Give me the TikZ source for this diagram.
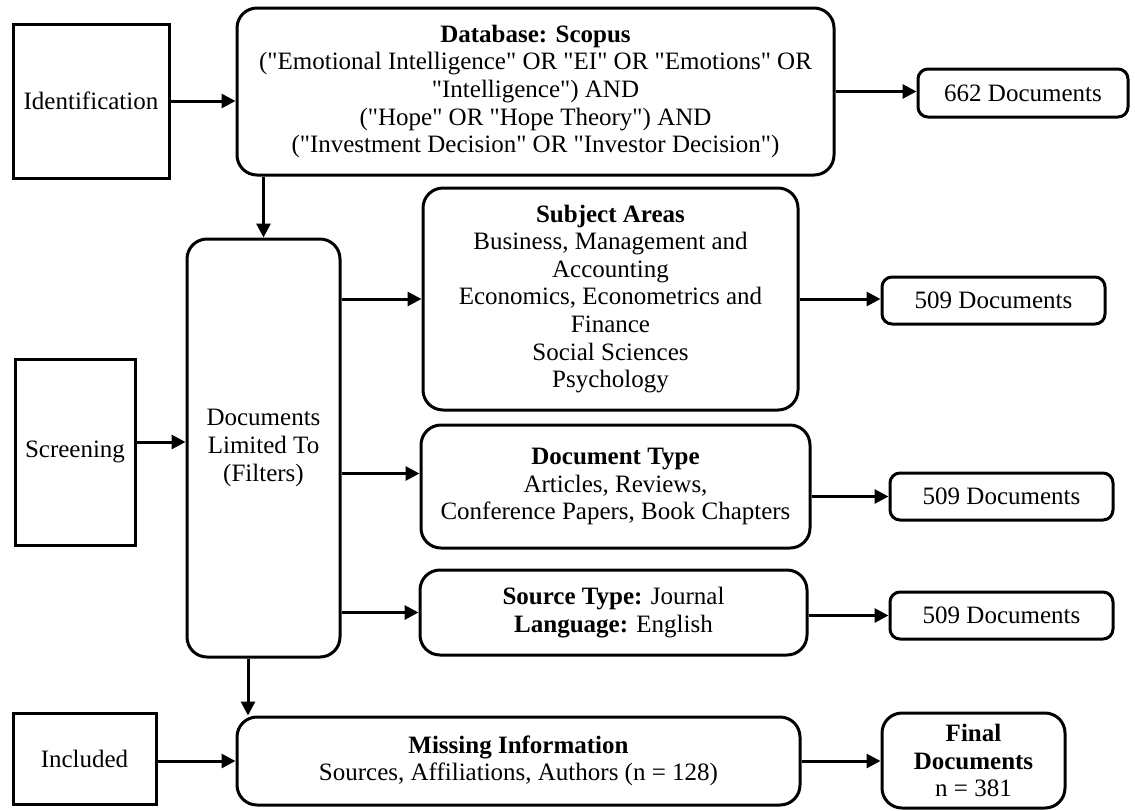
\documentclass[tikz,border=0pt]{standalone}
\usepackage{fontspec}
\setmainfont{Liberation Serif}
\usetikzlibrary{arrows.meta}
\newcommand{\qt}[1]{\textquotedbl#1\textquotedbl}
\begin{document}
\begin{tikzpicture}[>={Triangle[length=7pt,width=7pt]}, x=0.5pt, y=-0.5pt, line width=1.5pt,
    every node/.style={font=\fontsize{12.5}{13.8}\selectfont},
    stage/.style={draw, align=center, inner sep=2pt},
    rbox/.style={draw, rounded corners=10pt, align=center, inner sep=2pt},
    cbox/.style={draw, rounded corners=5pt, align=center, inner sep=2pt}]
\useasboundingbox (0,0) rectangle (1135,810);
% left column
\node[stage, minimum width=78pt, minimum height=77pt] (ident) at (91,101) {Identification};
\node[stage, minimum width=60pt, minimum height=93pt] (screen) at (75,452) {Screening};
\node[stage, minimum width=71.5pt, minimum height=45.5pt] (incl) at (84.5,758.5) {Included};
% search and filters
\node[rbox, minimum width=298.5pt, minimum height=83.5pt] (db) at (535.5,91.5)
  {\textbf{Database: Scopus}\\(\qt{Emotional Intelligence} OR \qt{EI} OR \qt{Emotions} OR\\\qt{Intelligence}) AND\\(\qt{Hope} OR \qt{Hope Theory}) AND\\(\qt{Investment Decision} OR \qt{Investor Decision})};
\node[rbox, minimum width=76.5pt, minimum height=209pt] (filt) at (263.5,448) {Documents\\Limited To\\(Filters)};
\node[rbox, minimum width=187.5pt, minimum height=111pt] (subj) at (610.5,299)
  {\textbf{Subject Areas}\\Business, Management and\\Accounting\\Economics, Econometrics and\\Finance\\Social Sciences\\Psychology};
\node[rbox, minimum width=194.5pt, minimum height=61.5pt] (dtype) at (615.5,486.5)
  {\textbf{Document Type}\\Articles, Reviews,\\Conference Papers, Book Chapters};
\node[rbox, minimum width=193.5pt, minimum height=42.5pt] (stype) at (613.5,612.5)
  {\textbf{Source Type:} Journal\\\textbf{Language:} English};
\node[rbox, minimum width=281.5pt, minimum height=44pt] (miss) at (518.5,761)
  {\textbf{Missing Information}\\Sources, Affiliations, Authors (n = 128)};
% counts
\node[cbox, minimum width=105pt, minimum height=24pt] (n662) at (1023,93) {662 Documents};
\node[cbox, minimum width=111.5pt, minimum height=23.5pt] (n509a) at (993.5,300.5) {509 Documents};
\node[cbox, minimum width=111.5pt, minimum height=23.5pt] (n509b) at (1001.5,496.5) {509 Documents};
\node[cbox, minimum width=111.5pt, minimum height=23.5pt] (n509c) at (1001.5,615.5) {509 Documents};
\node[rbox, minimum width=91.5pt, minimum height=47.5pt] (final) at (973.5,760.5) {\textbf{Final}\\\textbf{Documents}\\n = 381};
% arrows
\draw[->] (ident.east) -- (ident.east -| db.west);
\draw[->] (db.east) -- (db.east -| n662.west);
\draw[->] (filt.north |- db.south) -- (filt.north);
\draw[->] ([yshift=5pt]screen.east) -- ([yshift=5pt]screen.east -| filt.west);
\draw[->] (filt.east |- subj.west) -- (subj.west);
\draw[->] (subj.east) -- (subj.east -| n509a.west);
\draw[->] ([yshift=6.5pt]dtype.west -| filt.east) -- ([yshift=6.5pt]dtype.west);
\draw[->] (dtype.east |- n509b.west) -- (n509b.west);
\draw[->] (filt.east |- stype.west) -- (stype.west);
\draw[->] (stype.east |- n509c.west) -- (n509c.west);
\draw[->] ([xshift=-7.75pt]filt.south) -- ([xshift=-7.75pt]filt.south |- miss.north);
\draw[->] (incl.east |- miss.west) -- (miss.west);
\draw[->] (miss.east) -- (miss.east -| final.west);
\end{tikzpicture}
\end{document}
